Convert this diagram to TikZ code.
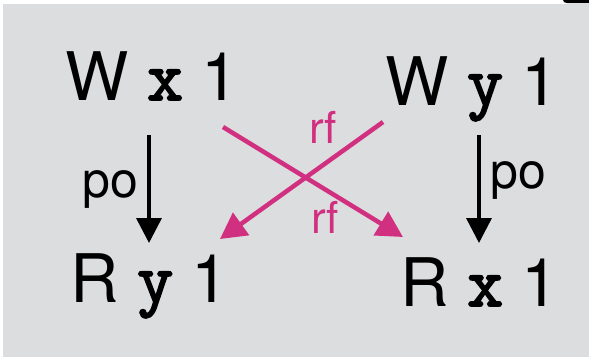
\documentclass[tikz,border=0pt]{standalone}
\usepackage{fontspec}
\setmainfont{TeX Gyre Heros}
\newfontfamily\courf{Latin Modern Mono}[FakeBold=2.5]
\usetikzlibrary{arrows.meta}
\definecolor{bgc}{HTML}{DCDDDF}
\definecolor{rfc}{HTML}{D0307F}
\tikzset{
  ev/.style={inner sep=0pt, anchor=base west, font=\fontsize{67}{70}\selectfont},
  lbl/.style={inner sep=0pt, anchor=base west, font=\fontsize{50}{55}\selectfont},
  rflbl/.style={inner sep=0pt, anchor=base west, text=rfc, font=\fontsize{44}{48}\selectfont},
  poarrow/.style={line width=3.5pt, -{Triangle[width=25pt,length=25pt]}},
  rfarrow/.style={rfc, line width=4.5pt, -{Triangle[width=27pt,length=26pt]}}
}
\newcommand{\mv}[1]{{\courf\fontsize{70}{72}\selectfont #1}}
\begin{document}
\begin{tikzpicture}[x=1pt,y=-1pt]
\useasboundingbox (0,0) rectangle (589,357);
\fill[white] (0,0) rectangle (589,357);
\fill[bgc] (3,4) rectangle (589,357);
\fill[black] (563,0) -- (589,0) -- (589,3) -- (567,3) to[out=180,in=-90] (563,0) -- cycle;
% events
\node[ev] (wx) at (65,100) {W \mv{x} 1};
\node[ev] (wy) at (385,105) {W \mv{y} 1};
\node[ev] (ry) at (70,302) {R \mv{y} 1};
\node[ev] (rx) at (400,306) {R \mv{x} 1};
% connector end points
\coordinate (wxs) at (149,135);
\coordinate (rye) at (149,243);
\coordinate (wys) at (479,135);
\coordinate (rxe) at (479,243);
\coordinate (rf1s) at (223,127);
\coordinate (rf1e) at (403,237);
\coordinate (rf2s) at (383,122);
\coordinate (rf2e) at (220,239);
% po
\draw[poarrow] (wxs) -- (rye);
\draw[poarrow] (wys) -- (rxe);
\node[lbl] (po1) at (82,197) {po};
\node[lbl] (po2) at (490,188) {po};
% rf
\draw[rfarrow] (rf1s) -- (rf1e);
\draw[rfarrow] (rf2s) -- (rf2e);
\node[rflbl] (rf1) at (309,143) {rf};
\node[rflbl] (rf2) at (311,233) {rf};
\end{tikzpicture}
\end{document}
